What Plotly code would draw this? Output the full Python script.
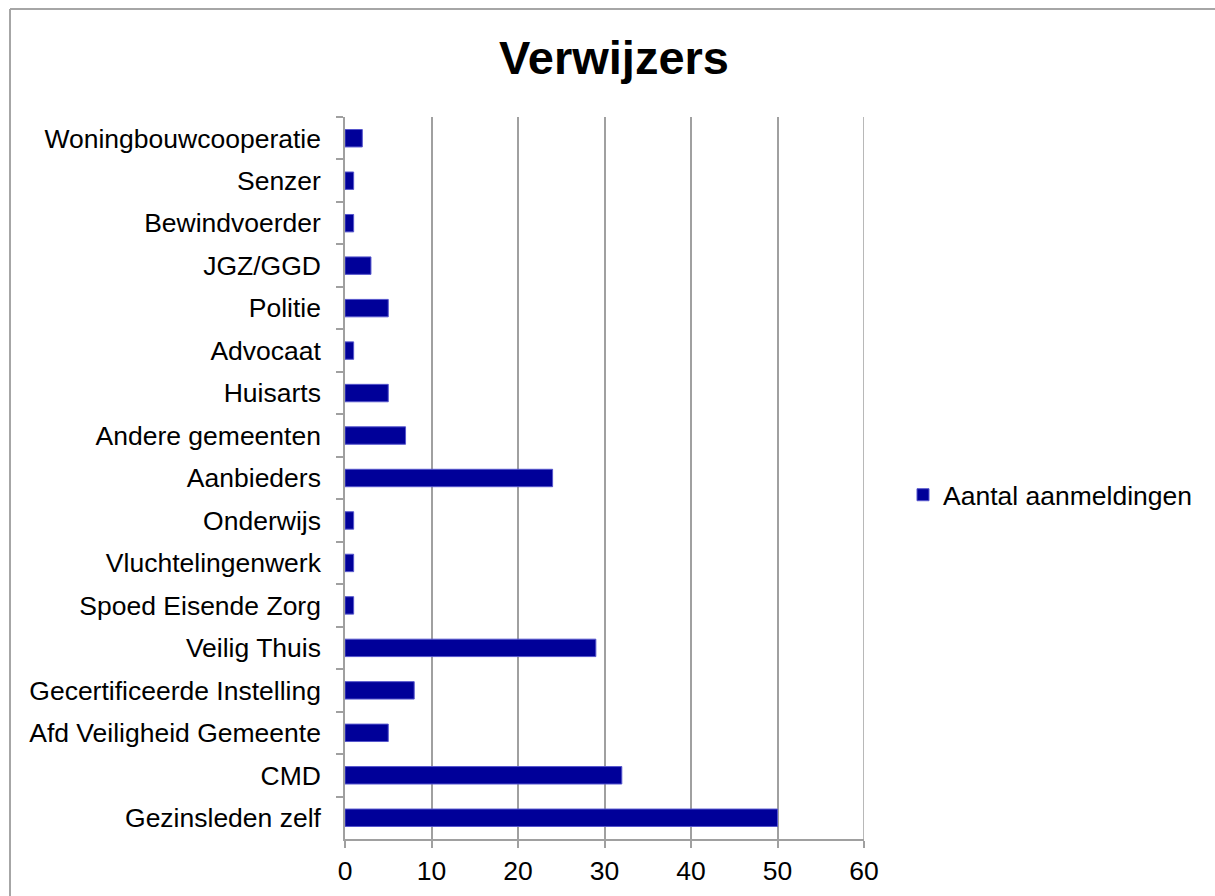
import plotly.graph_objects as go

# categories listed top to bottom, as in the chart
verwijzers = [
    "Woningbouwcooperatie", "Senzer", "Bewindvoerder", "JGZ/GGD", "Politie",
    "Advocaat", "Huisarts", "Andere gemeenten", "Aanbieders", "Onderwijs",
    "Vluchtelingenwerk", "Spoed Eisende Zorg", "Veilig Thuis",
    "Gecertificeerde Instelling", "Afd Veiligheid Gemeente", "CMD",
    "Gezinsleden zelf",
]
aanmeldingen = [2, 1, 1, 3, 5, 1, 5, 7, 24, 1, 1, 1, 29, 8, 5, 32, 50]
x_ticks = [0, 10, 20, 30, 40, 50, 60]

W, H = 1215, 896
L, R, T, B = 345, 864, 117, 839   # plot area in pixels
pw, ph = R - L, B - T


def px_x(p):
    return (p - L) / pw


def px_y(p):
    return (B - p) / ph


fig = go.Figure(go.Bar(
    x=aanmeldingen,
    y=verwijzers,
    orientation="h",
    name="Aantal aanmeldingen",
    marker=dict(color="#000099", line=dict(color="#5555cc", width=1)),
    showlegend=True,
))

grey = "#a0a0a0"
border = dict(color="#a6a6a6", width=2)
fig.update_layout(
    width=W, height=H,
    margin=dict(l=L, r=W - R, t=T, b=H - B),
    paper_bgcolor="white", plot_bgcolor="white",
    font=dict(family="Liberation Sans, Arial, sans-serif", size=26.5, color="black"),
    title=dict(text="<b>Verwijzers</b>", x=614 / W, xanchor="center",
               y=1 - 58 / H, yanchor="middle", yref="container",
               font=dict(size=47, color="black")),
    bargap=0.59,
    legend=dict(x=px_x(903), xanchor="left", y=px_y(495),
                yanchor="middle", font=dict(size=26.5), bgcolor="rgba(0,0,0,0)"),
    xaxis=dict(range=[0, 60], tickvals=x_ticks, showgrid=True, gridcolor=grey, gridwidth=1.5,
               zeroline=False, showline=True, linecolor=grey, linewidth=1.5,
               ticks="outside", ticklen=7, tickcolor=grey, tickwidth=1.5, automargin=False),
    yaxis=dict(autorange="reversed", showgrid=False, zeroline=False, showline=True,
               linecolor=grey, linewidth=1.5, ticks="outside", tickson="boundaries",
               ticklen=7, tickcolor=grey, tickwidth=1.5, ticklabelstandoff=17,
               automargin=False),
    shapes=[
        # outer chart border (top and left edges; the rest runs off the picture)
        dict(type="line", xref="paper", yref="paper", x0=px_x(10), x1=px_x(1240),
             y0=px_y(9), y1=px_y(9), line=border),
        dict(type="line", xref="paper", yref="paper", x0=px_x(10), x1=px_x(10),
             y0=px_y(9), y1=px_y(920), line=border),
        # last gridline at the right edge
        dict(type="line", xref="x", yref="paper", x0=x_ticks[-1], x1=x_ticks[-1],
             y0=0, y1=1, line=dict(color=grey, width=1.5), layer="below"),
    ],
)

# drop the default page margin so the figure fills the window exactly
fig.write_html("out.html", config={"displayModeBar": False},
               post_script="document.body.style.margin='0';document.body.style.overflow='hidden';")
